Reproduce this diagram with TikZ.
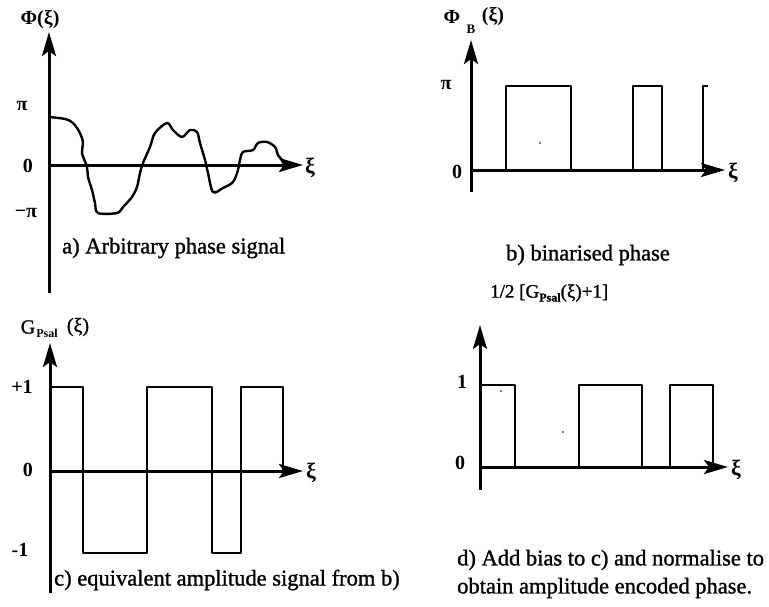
\documentclass[tikz,border=0pt]{standalone}
\usepackage{fontspec}
\setmainfont{Liberation Serif}
\newfontfamily\heavyserif[FakeBold=1.2]{Liberation Serif}
\usetikzlibrary{arrows.meta}
\begin{document}
\begin{tikzpicture}[x=1pt,y=-1pt,
  axarrow/.style={line width=3pt,-{Stealth[length=24pt,width=14pt,inset=5pt]}},
  axisline/.style={line width=3pt},
  sigline/.style={line width=2.4pt,line join=round},
  ticklbl/.style={font=\fontsize{20}{22}\selectfont\bfseries,inner sep=0pt},
  xilbl/.style={font=\fontsize{22}{24}\selectfont\bfseries,inner sep=0pt,anchor=west},
  captxt/.style={font=\fontsize{22.5}{25}\selectfont\heavyserif,inner sep=0pt},
  ttllbl/.style={font=\fontsize{20}{22}\selectfont\bfseries,inner sep=0pt},
  speck/.style={fill=black,inner sep=0pt,minimum size=1.6pt,circle}
]
\useasboundingbox (0,0) rectangle (769,606);

% ---------- panel a ----------
\coordinate (aO) at (49,165);
\coordinate (aB) at (49,293);
\coordinate (aT) at (49,32);
\coordinate (aR) at (303,165);
\draw[axisline] (aO) -- (aB);
\draw[axarrow] (aO) -- (aT);
\draw[axarrow] (aO) -- (aR);
\node[ttllbl] (aphi) at (40,20) {Φ(ξ)};
\node[ticklbl] (api) at (22,106) {π};
\node[ticklbl] (a0) at (28,166) {0};
\node[ticklbl] (ampi) at (26,213) {−π};
\node[xilbl] (axi) at (305,168) {ξ};
\node[captxt,anchor=west] (acap) at (62,248) {a) Arbitrary phase signal};
\draw[sigline] plot[smooth,tension=0.55] coordinates {
 (49,117) (65,119) (73,123) (80,133) (83,143) (82,153) (87,167) (88,177)
 (92,190) (95,203) (98,213) (117,213) (123,207) (132,197) (137,187)
 (140,173) (143,163) (150,147) (155,133) (167,123) (173,130) (182,137)
 (190,130) (197,132) (200,143) (205,160) (208,173) (213,192) (223,188)
 (233,182) (238,170) (240,160) (243,152) (253,150) (258,143) (267,142)
 (275,147) (278,155) (282,160) (284,164)};

% ---------- panel b ----------
\coordinate (bO) at (471,170);
\coordinate (bB) at (471,192);
\coordinate (bT) at (471,40);
\coordinate (bR) at (725,170);
\draw[axisline] (bO) -- (bB);
\draw[axarrow] (bO) -- (bT);
\draw[axarrow] (bO) -- (bR);
\node[ttllbl] (bphi) at (452,17) {Φ};
\node[font=\fontsize{13}{14}\selectfont\bfseries,inner sep=0pt] (bsub) at (471,29) {B};
\node[ttllbl] (bxiarg) at (493,17) {(ξ)};
\node[ticklbl] (bpi) at (446,85) {π};
\node[ticklbl] (b0) at (457,172) {0};
\node[xilbl] (bxi) at (728,173) {ξ};
\draw[sigline] (506,170) -- (506,86) -- (571,86) -- (571,170);
\draw[sigline] (633,170) -- (633,86) -- (662,86) -- (662,170);
\draw[sigline] (703,170) -- (703,86) -- (708,86);
\node[speck] (bdot) at (540,143) {};
\node[captxt] (bcap) at (588,255) {b) binarised phase};

% ---------- panel c ----------
\coordinate (cO) at (50,471);
\coordinate (cB) at (50,593);
\coordinate (cT) at (50,343);
\coordinate (cR) at (303,471);
\draw[axisline] (cO) -- (cB);
\draw[axarrow] (cO) -- (cT);
\draw[axarrow] (cO) -- (cR);
\node[font=\fontsize{20}{22}\selectfont\heavyserif,inner sep=0pt] (cG) at (28,327) {G};
\node[font=\fontsize{12}{13}\selectfont\bfseries,inner sep=0pt] (cGs) at (47,333) {Psal};
\node[font=\fontsize{20}{22}\selectfont\heavyserif,inner sep=0pt] (cGa) at (78,327) {(ξ)};
\node[ticklbl] (cp1) at (22,387) {+1};
\node[ticklbl] (c0) at (28,470) {0};
\node[ticklbl] (cm1) at (20,550) {-1};
\node[xilbl] (cxi) at (306,473) {ξ};
\draw[sigline] (50,387) -- (83,387) -- (83,553) -- (147,553) -- (147,387)
  -- (212,387) -- (212,553) -- (241,553) -- (241,387) -- (283,387) -- (283,471);
\node[captxt,anchor=west] (ccap) at (54,580) {c) equivalent amplitude signal from b)};

% ---------- panel d ----------
\coordinate (dO) at (480,467);
\coordinate (dB) at (480,490);
\coordinate (dT) at (480,325);
\coordinate (dR) at (728,467);
\draw[axisline] (dO) -- (dB);
\draw[axarrow] (dO) -- (dT);
\draw[axarrow] (dO) -- (dR);
\node[font=\fontsize{19}{21}\selectfont\heavyserif,inner sep=0pt,anchor=west] (dttl) at (490,293)
  {1/2 [G\raisebox{-0.45ex}{\fontsize{12}{13}\selectfont\bfseries Psal}(ξ)+1]};
\node[ticklbl] (d1) at (462,382) {1};
\node[ticklbl] (d0) at (460,463) {0};
\node[xilbl] (dxi) at (731,470) {ξ};
\draw[sigline] (480,385) -- (515,385) -- (515,467);
\draw[sigline] (579,467) -- (579,385) -- (642,385) -- (642,467);
\draw[sigline] (670,467) -- (670,385) -- (713,385) -- (713,467);
\node[speck] (ddot1) at (501,391) {};
\node[speck] (ddot2) at (563,432) {};
\node[captxt,anchor=west] (dcap1) at (457,560) {d) Add bias to c) and normalise to};
\node[captxt,anchor=west] (dcap2) at (457,588) {obtain amplitude encoded phase.};
\end{tikzpicture}
\end{document}
